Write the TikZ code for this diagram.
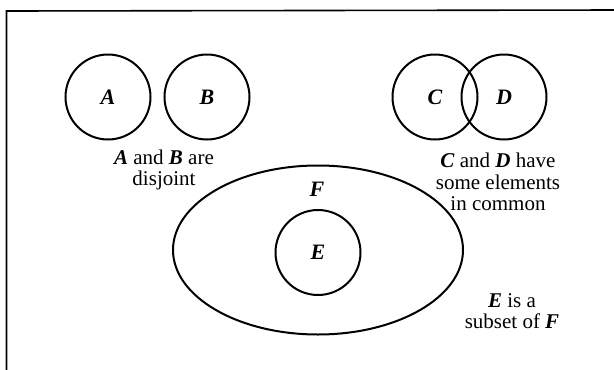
\documentclass[tikz,border=0pt]{standalone}
\usepackage{fontspec}
\setmainfont{Liberation Serif}
\usetikzlibrary{shapes.geometric}
\begin{document}
\begin{tikzpicture}[x=1pt,y=-1pt,
  setc/.style={draw,circle,line width=2pt,minimum size=85pt,inner sep=0pt},
  sete/.style={draw,ellipse,line width=2pt,minimum width=290pt,minimum height=169pt,inner sep=0pt},
  lbl/.style={font=\fontsize{22}{22}\selectfont\bfseries\itshape,inner sep=0pt},
  txt/.style={font=\fontsize{21}{21.5}\selectfont,align=center,inner sep=0pt},
  frame/.style={line width=1.6pt}]
\useasboundingbox (0,0) rectangle (614,370);
% frame (cropped box)
\coordinate (f1) at (6.5,380);
\coordinate (f2) at (6.5,11);
\coordinate (f3) at (620,10);
\draw[frame] (f1) -- (f2) -- (f3);
% disjoint sets
\node[setc] (A) at (108,97) {};
\node[setc] (B) at (207,97) {};
\node[lbl] (Al) at (A.center) {A};
\node[lbl] (Bl) at (B.center) {B};
\node[txt] (AB) at (164,170) {\textbf{\textit{A}} and \textbf{\textit{B}} are\\disjoint};
% overlapping sets
\node[setc] (C) at (435,97) {};
\node[setc] (D) at (504,97) {};
\node[lbl] (Cl) at (C.center) {C};
\node[lbl] (Dl) at (D.center) {D};
\node[txt] (CD) at (498,182) {\textbf{\textit{C}} and \textbf{\textit{D}} have\\some elements\\in common};
% subset
\node[sete] (F) at (318,250) {};
\node[setc] (E) at (318,252.5) {};
\node[lbl] (Fl) at (317,189) {F};
\node[lbl] (El) at (E.center) {E};
\node[txt] (EF) at (512,311) {\textbf{\textit{E}} is a\\subset of \textbf{\textit{F}}};
\end{tikzpicture}
\end{document}
